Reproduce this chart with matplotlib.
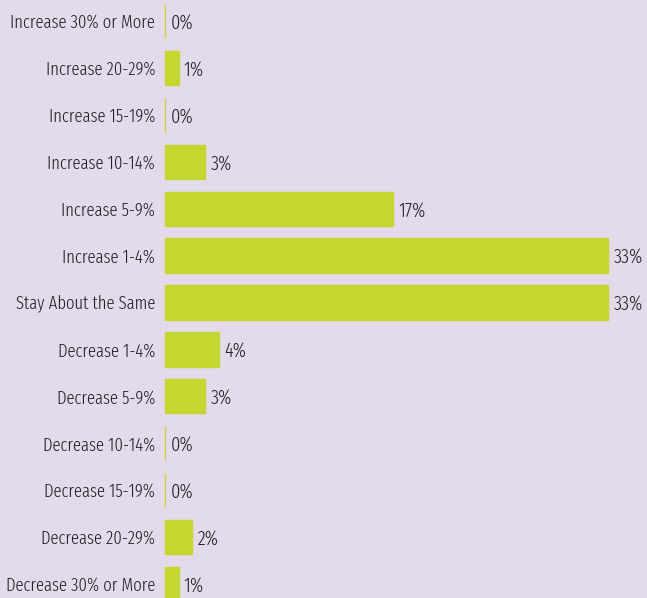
import matplotlib.pyplot as plt
from matplotlib import font_manager

# Data
categories = [
    "Increase 30% or More", "Increase 20-29%", "Increase 15-19%",
    "Increase 10-14%", "Increase 5-9%", "Increase 1-4%",
    "Stay About the Same", "Decrease 1-4%", "Decrease 5-9%",
    "Decrease 10-14%", "Decrease 15-19%", "Decrease 20-29%",
    "Decrease 30% or More",
]
values = [0, 1, 0, 3, 17, 33, 33, 4, 3, 0, 0, 2, 1]

BG = "#E3DBEC"
BAR = "#C4D730"
TXT = "#231F20"


def find_face(keys, avoid, weights):
    for f in font_manager.fontManager.ttflist:
        nm = (f.name + " " + f.fname).lower().replace("-", "").replace(" ", "")
        if any(k in nm for k in keys) and not any(a in nm for a in avoid) \
                and f.weight in weights and f.style == "normal":
            return f.fname
    return None


# the reference uses a very narrow, light type: try the narrowest first
narrow = find_face(["extracondensed"], ["semi", "ultra"], (300, "light"))
if narrow is None:
    narrow = find_face(["extracondensed"], ["semi", "ultra"], (400, "normal", "regular"))
size = 13.1
if narrow is None:
    narrow = find_face(["condensed", "narrow"], ["semi", "extra", "ultra"],
                       (400, "normal", "regular"))
    size = 10.6

if narrow:
    fp = font_manager.FontProperties(fname=narrow, size=size)
    fp_val = font_manager.FontProperties(fname=narrow, size=size + 1.2)
else:
    fp = font_manager.FontProperties(family="DejaVu Sans", size=10)
    fp_val = fp

fig = plt.figure(figsize=(6.47, 5.98), dpi=100, facecolor=BG)
ax = fig.add_axes([0, 0, 1, 1])
ax.set_facecolor(BG)

pos = list(range(len(categories)))
ax.barh(pos, values, height=0.73, color=BAR, edgecolor=BAR, linewidth=1.0)

for i, (cat, v) in enumerate(zip(categories, values)):
    ax.text(-0.75, i + 0.04, cat, ha="right", va="center", fontproperties=fp, color=TXT)
    ax.text(v + 0.4, i + 0.04, f"{v}%", ha="left", va="center", fontproperties=fp_val,
            color=TXT)

ax.set_xlim(-12.3, 35.9)
ax.set_ylim(12.30, -0.45)
ax.axis("off")

fig.savefig("out.png", dpi=100, facecolor=BG)
